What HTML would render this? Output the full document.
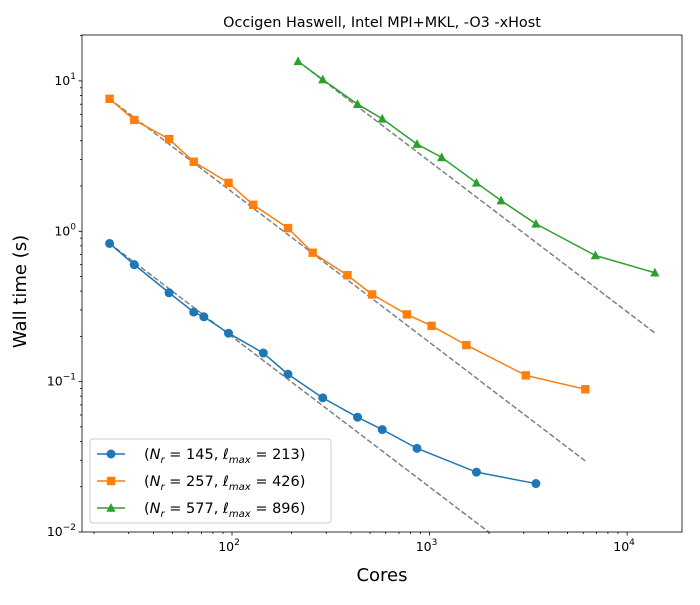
<!DOCTYPE html>
<html><head><meta charset="utf-8"><style>
body{margin:0;background:#fff;font-family:"Liberation Sans","DejaVu Sans",sans-serif}
svg text{font-family:"DejaVu Sans","Liberation Sans",sans-serif}
</style></head><body>
<svg id="chart" width="700" height="600" xmlns="http://www.w3.org/2000/svg"></svg>
<script>
const seriesLabels=["N_r = 145, lmax = 213","N_r = 257, lmax = 426","N_r = 577, lmax = 896"];
const blueCores=[24,32,48,64,72,96,144,192,288,432,576,864,1728,3456];
const blueTimes=[0.83,0.6,0.39,0.29,0.27,0.21,0.155,0.112,0.078,0.058,0.048,0.036,0.025,0.021];
const orangeCores=[24,32,48,64,96,128,192,256,384,512,768,1024,1536,3072,6144];
const orangeTimes=[7.6,5.5,4.1,2.9,2.1,1.5,1.05,0.72,0.51,0.38,0.28,0.235,0.175,0.11,0.089];
const greenCores=[216,288,432,576,864,1152,1728,2304,3456,6912,13824];
const greenTimes=[13.5,10.2,7.0,5.6,3.8,3.1,2.1,1.6,1.12,0.69,0.53];
const xTickVals=[100,1000,10000];
const xTickLabels=["10","10","10"];
const xTickExps=["2","3","4"];
const yTickVals=[0.01,0.1,1,10];
const yTickExps=["−2","−1","0","1"];

const L=82,R=682,T=35,B=532;
const xmin=Math.log10(17.4),xmax=Math.log10(18970);
const ymin=-2,ymax=Math.log10(20.2);
const X=v=>L+(Math.log10(v)-xmin)/(xmax-xmin)*(R-L);
const Y=v=>B-(Math.log10(v)-ymin)/(ymax-ymin)*(B-T);
const svg=document.getElementById('chart');
const NS="http://www.w3.org/2000/svg";
function mk(tag,attrs,parent){const e=document.createElementNS(NS,tag);for(const k in attrs)e.setAttribute(k,attrs[k]);(parent||svg).appendChild(e);return e;}

for(let d=1;d<=4;d++){for(let m=1;m<10;m++){const v=m*Math.pow(10,d);const x=X(v);if(x<L||x>R)continue;
const t=mk('line',{x1:x,x2:x,y1:B,y2:B+(m==1?3.5:2),stroke:'#000','stroke-width':0.8});

}}
for(let d=-2;d<=1;d++){for(let m=1;m<10;m++){const v=m*Math.pow(10,d);const y=Y(v);if(y<T||y>B)continue;
const t=mk('line',{x1:L,x2:L-(m==1?3.5:2),y1:y,y2:y,stroke:'#000','stroke-width':0.8});

}}
xTickVals.forEach((v,i)=>{const t=mk('text',{x:X(v)-3,y:B+19,'font-size':12.5,'text-anchor':'middle'});t.textContent=xTickLabels[i];


const s=mk('tspan',{dy:-6,'font-size':9},t);s.textContent=xTickExps[i];});
yTickVals.forEach((v,i)=>{const t=mk('text',{x:L-6,y:Y(v)+4,'font-size':12.5,'text-anchor':'end'});


const a=mk('tspan',{},t);a.textContent="10";const s=mk('tspan',{dy:-6,'font-size':9},t);s.textContent=yTickExps[i];});

const defs=mk('defs',{});const cp=mk('clipPath',{id:'c'},defs);mk('rect',{x:L,y:T,width:R-L,height:B-T},cp);
const g=mk('g',{'clip-path':'url(#c)'});



[[blueCores,blueTimes,2000],[orangeCores,orangeTimes,6144],[greenCores,greenTimes,13824]].forEach(([c,t,end])=>{
const v0=t[0]*c[0]/end;
const l=mk('line',{x1:X(c[0]),y1:Y(t[0]),x2:X(end),y2:Y(v0),stroke:'#808080','stroke-width':1.5,'stroke-dasharray':'5.5,2.4'},g);

});

const cols=['#1f77b4','#ff7f0e','#2ca02c'];
function marker(shape,x,y,col,parent){let m;
if(shape==0)m=mk('circle',{cx:x,cy:y,r:4.5,fill:col},parent);
else if(shape==1)m=mk('rect',{x:x-4.2,y:y-4.2,width:8.4,height:8.4,fill:col},parent);
else m=mk('polygon',{points:`${x},${y-5} ${x-4.6},${y+3.8} ${x+4.6},${y+3.8}`,fill:col},parent);
return m;}
[[blueCores,blueTimes],[orangeCores,orangeTimes],[greenCores,greenTimes]].forEach(([c,t],k)=>{
const p=mk('polyline',{points:c.map((v,i)=>X(v)+','+Y(t[i])).join(' '),fill:'none',stroke:cols[k],'stroke-width':1.5},g);


c.forEach((v,i)=>{const m=marker(k,X(v),Y(t[i]),cols[k],g);

});});

const fr=mk('rect',{x:L,y:T,width:R-L,height:B-T,fill:'none',stroke:'#000','stroke-width':0.8});



let t=mk('text',{x:(L+R)/2,y:27,'font-size':14.4,'text-anchor':'middle'});t.textContent="Occigen Haswell, Intel MPI+MKL, -O3 -xHost";

t=mk('text',{x:(L+R)/2,y:581,'font-size':18,'text-anchor':'middle'});t.textContent="Cores";

t=mk('text',{x:26,y:(T+B)/2+8,'font-size':18,'text-anchor':'middle',transform:`rotate(-90 26 ${(T+B)/2+8})`});t.textContent="Wall time (s)";


const lg=mk('g',{});


mk('rect',{x:90,y:439,width:241,height:84,rx:3,fill:'#fff','fill-opacity':0.8,stroke:'#ccc'},lg);
const nr=[145,257,577],lm=[213,426,896];
for(let k=0;k<3;k++){const y=454+k*27;
mk('line',{x1:97,x2:125,y1:y,y2:y,stroke:cols[k],'stroke-width':1.5},lg);
marker(k,111,y,cols[k],lg);
const tx=mk('text',{x:144,y:y+5,'font-size':14.5},lg);


tx.innerHTML=`(<tspan font-style="italic">N</tspan><tspan font-size="10" dy="4" font-style="italic">r</tspan><tspan dy="-4"> = ${nr[k]}, </tspan><tspan font-style="italic">ℓ</tspan><tspan font-size="10" dy="4" font-style="italic">max</tspan><tspan dy="-4"> = ${lm[k]})</tspan>`;}
</script>
</body></html>
